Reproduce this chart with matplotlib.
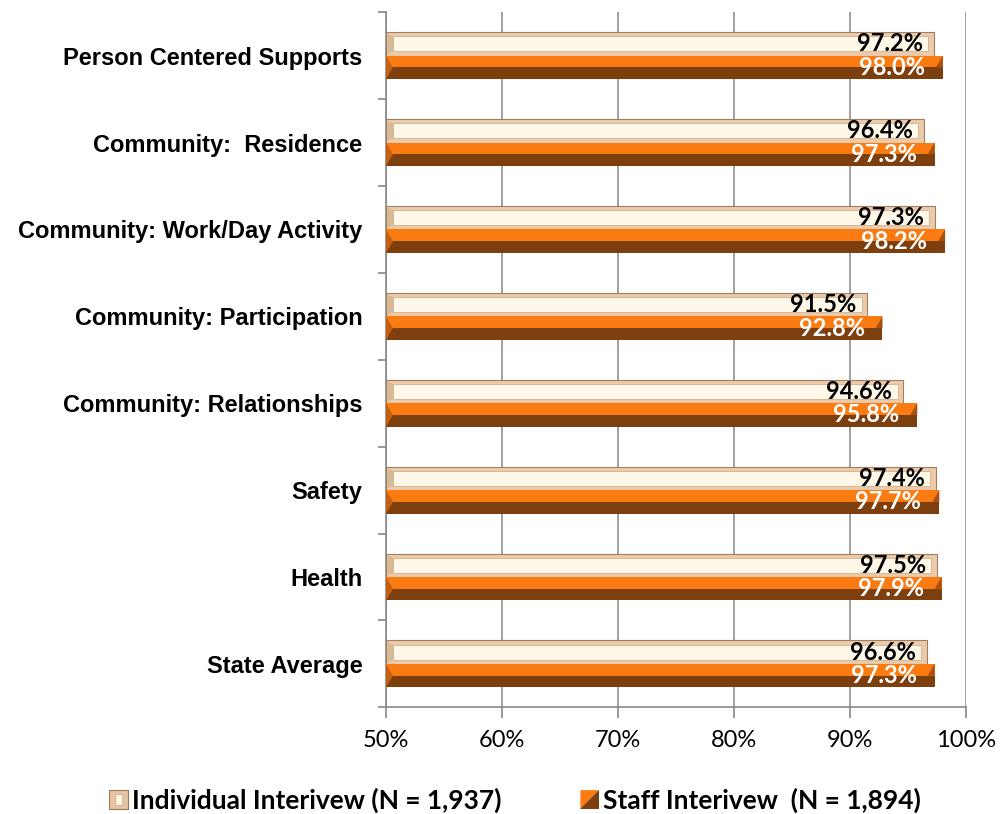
import matplotlib
matplotlib.use('Agg')
import matplotlib.pyplot as plt
import numpy as np
from matplotlib.patches import Polygon, Rectangle
from matplotlib.legend_handler import HandlerBase

plt.rcParams['font.family'] = ['Lato', 'DejaVu Sans']

categories = ['Person Centered Supports', 'Community:  Residence',
              'Community: Work/Day Activity', 'Community: Participation',
              'Community: Relationships', 'Safety', 'Health', 'State Average']
individual = [97.2, 96.4, 97.3, 91.5, 94.6, 97.4, 97.5, 96.6]
staff = [98.0, 97.3, 98.2, 92.8, 95.8, 97.7, 97.9, 97.3]
series_names = ['Individual Interivew (N = 1,937)', 'Staff Interivew  (N = 1,894)']
xticks = [50, 60, 70, 80, 90, 100]

LEFT = 50
H = 0.27


class BevelHandler(HandlerBase):
    def __init__(self, kind):
        super().__init__()
        self.kind = kind

    def create_artists(self, legend, orig, xd, yd, w, h, fontsize, trans):
        s = min(w, h) * 1.0
        x0 = xd + (w - s) / 2
        y0 = yd + (h - s) / 2
        if self.kind == 'ind':
            outer = Rectangle((x0, y0), s, s, facecolor='#E8C4A2', edgecolor='#9A7A5A', lw=0.8, transform=trans)
            inner = Rectangle((x0 + s * 0.3, y0 + s * 0.2), s * 0.4, s * 0.6, facecolor='#FFF6E4',
                              edgecolor='#C8A888', lw=0.5, transform=trans)
            return [outer, inner]
        a = Polygon([[x0, y0 + s], [x0 + s, y0 + s], [x0, y0]], closed=True,
                    facecolor='#F97B12', edgecolor='none', transform=trans)
        b = Polygon([[x0 + s, y0 + s], [x0 + s, y0], [x0, y0]], closed=True,
                    facecolor='#7E3F0F', edgecolor='none', transform=trans)
        return [a, b]


fig = plt.figure(figsize=(10, 8.14), dpi=100)
ax = fig.add_axes([0.386, 0.131, 0.58, 0.854])

y = np.arange(len(categories))

for i, (vi, vs) in enumerate(zip(individual, staff)):
    yc = y[i]
    # individual bar: tan frame with a pale inset, bevel on the left end
    ax.barh(yc - H / 2, vi - LEFT, left=LEFT, height=H, color='#EDCBAA', edgecolor='#9C8064', lw=0.8, zorder=3)
    ax.barh(yc - H / 2, vi - LEFT - 1.1, left=LEFT + 0.6, height=H * 0.64, color='#FFF8E8',
            edgecolor='#CDB091', lw=0.6, zorder=4)
    ax.add_patch(Polygon([[LEFT + 0.1, yc - H + 0.02], [LEFT + 0.6, yc - H * 0.82],
                          [LEFT + 0.6, yc - H * 0.18], [LEFT + 0.1, yc - 0.02]], closed=True,
                         facecolor='#D9B896', edgecolor='none', zorder=4))

    # staff bar: orange top half, brown bottom half
    ax.barh(yc + H * 0.25, vs - LEFT, left=LEFT, height=H / 2, color='#F97B12', lw=0, zorder=3)
    ax.barh(yc + H * 0.75, vs - LEFT, left=LEFT, height=H / 2, color='#7E3F0F', lw=0, zorder=3)
    ax.add_patch(Polygon([[LEFT, yc], [LEFT + 0.6, yc + H / 2], [LEFT, yc + H]], closed=True,
                         facecolor='#C4600F', edgecolor='none', zorder=4))
    ax.add_patch(Polygon([[vs - 0.6, yc + H / 2], [vs, yc], [vs, yc + H / 2]], closed=True,
                         facecolor='#A94F0F', edgecolor='none', zorder=4))

    ax.text(vi - 0.95, yc - H / 2, f'{vi:.1f}%', ha='right', va='center', fontsize=17,
            fontweight='bold', color='black', zorder=5)
    ax.text(vs - 1.55, yc + H / 2, f'{vs:.1f}%', ha='right', va='center', fontsize=17,
            fontweight='bold', color='white', zorder=5)

ax.set_xlim(LEFT, 100)
ax.set_ylim(len(categories) - 0.5, -0.5)
ax.set_xticks(xticks)
ax.set_xticklabels([f'{t}%' for t in xticks], fontsize=17)
ax.set_yticks(y)
ax.set_yticklabels(categories, fontsize=17, fontweight='bold', family=['Liberation Sans', 'DejaVu Sans'])
ax.set_yticks(np.arange(len(categories) + 1) - 0.5, minor=True)
ax.tick_params(axis='y', which='major', length=0, pad=17)
ax.tick_params(axis='y', which='minor', length=6, color='#888888', width=1.2)
ax.tick_params(axis='x', length=8, color='#888888', width=1.2, pad=8)
ax.grid(axis='x', color='#999999', lw=1.3, zorder=0)
ax.set_axisbelow(True)
for side in ['top', 'right']:
    ax.spines[side].set_visible(False)
for side in ['left', 'bottom']:
    ax.spines[side].set_color('#888888')
    ax.spines[side].set_linewidth(1.2)

h1 = Rectangle((0, 0), 1, 1)
h2 = Rectangle((0, 0), 1, 1)
fig.legend([h1, h2], series_names, handler_map={h1: BevelHandler('ind'), h2: BevelHandler('st')},
           loc='center', bbox_to_anchor=(0.515, 0.017), ncol=2, frameon=False,
           prop={'size': 19, 'weight': 'bold'}, handlelength=0.7, handletextpad=0.15, columnspacing=3)

fig.savefig('out.png', dpi=100)
